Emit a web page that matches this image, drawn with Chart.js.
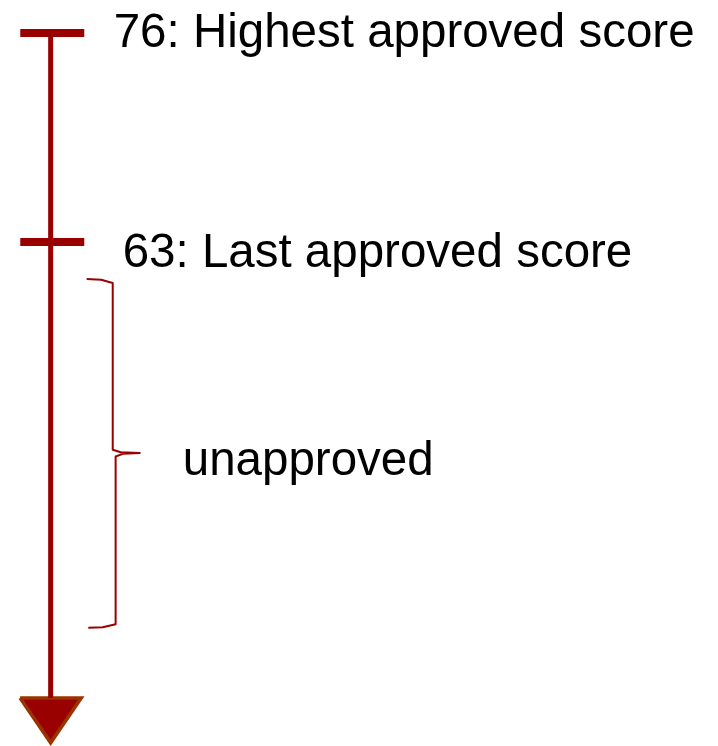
<!DOCTYPE html>
<html>
<head>
<meta charset="utf-8">
<title>Approved scores</title>
<script src="https://cdn.jsdelivr.net/npm/chart.js@4.4.1/dist/chart.umd.min.js"></script>
<style>
  html, body { margin: 0; padding: 0; background: #fff; }
  #chartWrap { width: 718px; height: 746px; }
</style>
</head>
<body>
<div id="chartWrap"><canvas id="scoreChart" width="718" height="746"></canvas></div>
<script>
// ----------------------------
// DATA
// ----------------------------
const markScores = [76, 63];
const markLabels = ['76: Highest approved score', '63: Last approved score'];
const axisRange = [76, 34.64];          // line from top score down to arrow base
const arrowTip = 31.85;
const unapprovedRange = [60.7, 39.0];   // brace top / bottom
const unapprovedMid = 49.88;
const unapprovedLabel = 'unapproved';

// ----------------------------
// LAYOUT (scale units, same size on x and y)
// ----------------------------
const RED = '#990000';
const braceX = { end: 2.24, upper: 3.86, lower: 4.04, tip: 5.54 };
const arrowHalf = 1.9;

// ----------------------------
// DATASETS
// ----------------------------
const axisLine = axisRange.map(v => ({ x: 0, y: v }));
const marks = markScores.map(v => ({ x: 0.1, y: v }));
const arrowHead = [
  { x: -arrowHalf, y: axisRange[1] },
  { x: arrowHalf, y: axisRange[1] },
  { x: 0, y: arrowTip },
  { x: -arrowHalf, y: axisRange[1] }
];
const braceTop = unapprovedRange[0];
const braceBot = unapprovedRange[1];
const brace = [
  { x: braceX.end, y: braceTop },
  { x: braceX.end + 0.9, y: braceTop - 0.05 },
  { x: braceX.upper, y: braceTop - 0.25 },
  { x: braceX.upper, y: unapprovedMid + 0.2 },
  { x: braceX.upper + 0.5, y: unapprovedMid + 0.04 },
  { x: braceX.tip, y: unapprovedMid },
  { x: braceX.lower + 0.45, y: unapprovedMid - 0.06 },
  { x: braceX.lower, y: unapprovedMid - 0.22 },
  { x: braceX.lower, y: braceBot + 0.22 },
  { x: braceX.end + 1.0, y: braceBot + 0.03 },
  { x: braceX.end + 0.1, y: braceBot }
];

// ----------------------------
// TEXT PLUGIN
// ----------------------------
const labelPlugin = {
  id: 'scoreLabels',
  afterDatasetsDraw(chart) {
    const { ctx, scales } = chart;
    const x0 = scales.x.getPixelForValue(0);
    ctx.save();
    ctx.font = '47.5px "Liberation Sans", Arial, sans-serif';
    ctx.fillStyle = '#000';
    ctx.textBaseline = 'alphabetic';
    const dx = [63, 72];
    const dy = [14, 25];
    markScores.forEach((v, i) => {
      ctx.fillText(markLabels[i], x0 + dx[i], scales.y.getPixelForValue(v) + dy[i]);
    });
    const tipX = scales.x.getPixelForValue(braceX.tip);
    ctx.fillText(unapprovedLabel, tipX + 43, scales.y.getPixelForValue(unapprovedMid) + 22);
    ctx.restore();
  }
};

// ----------------------------
// CHART
// ----------------------------
const chartCtx = document.getElementById('scoreChart').getContext('2d');

new Chart(chartCtx, {
  type: 'scatter',
  data: {
    datasets: [
      {
        data: axisLine,
        showLine: true,
        borderColor: RED,
        borderWidth: 5,
        pointRadius: 0
      },
      {
        data: arrowHead,
        showLine: true,
        fill: 'shape',
        backgroundColor: RED,
        borderColor: '#993300',
        borderWidth: 3.5,
        borderJoinStyle: 'miter',
        pointRadius: 0
      },
      {
        data: marks,
        pointStyle: 'line',
        pointRadius: 32,
        pointBorderWidth: 8,
        pointBorderColor: RED,
        pointBackgroundColor: RED
      },
      {
        data: brace,
        showLine: true,
        borderColor: RED,
        borderWidth: 2,
        borderJoinStyle: 'round',
        pointRadius: 0
      }
    ]
  },
  options: {
    responsive: false,
    animation: false,
    layout: { padding: 0, autoPadding: false },
    plugins: {
      legend: { display: false },
      tooltip: { enabled: false }
    },
    scales: {
      x: { type: 'linear', display: false, min: -3.15, max: 41.5 },
      y: { type: 'linear', display: false, min: 31.65, max: 78.05 }
    }
  },
  plugins: [labelPlugin]
});
</script>
</body>
</html>
